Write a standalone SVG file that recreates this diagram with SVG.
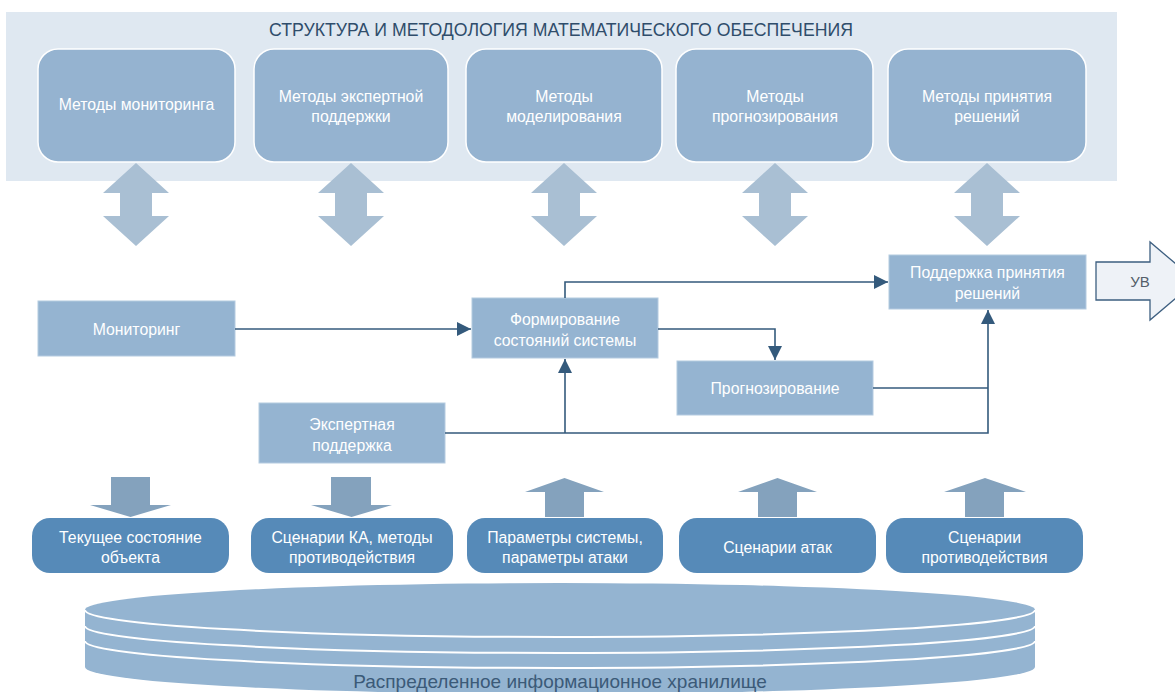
<svg xmlns="http://www.w3.org/2000/svg" width="1175" height="692" viewBox="0 0 1175 692">
<defs>
<style>
.t{font-family:"Liberation Sans","DejaVu Sans",sans-serif;font-size:15.8px;fill:#ffffff;text-anchor:middle}
.title{font-family:"Liberation Sans","DejaVu Sans",sans-serif;font-size:17.7px;fill:#2f4d6b;text-anchor:middle}
.tbox{fill:#95b3d0;stroke:#ffffff;stroke-width:1.5}
.mbox{fill:#95b4d1;stroke:#b4cbe0;stroke-width:1}
.bbox{fill:#568ab8}
.darr{fill:#a9bfd3}
.varr{fill:#84a2bd}
.con{fill:none;stroke:#345a7c;stroke-width:1.6}
</style>
<marker id="a" viewBox="0 0 12 12" refX="12" refY="6" markerWidth="14" markerHeight="14" orient="auto" markerUnits="userSpaceOnUse">
<path d="M0,0 L12,6 L0,12 z" fill="#345a7c"/>
</marker>
</defs>

<g id="band">
<rect x="6" y="12" width="1111" height="169" fill="#dfe8f1"/>
<text class="title" x="561" y="36">СТРУКТУРА И МЕТОДОЛОГИЯ МАТЕМАТИЧЕСКОГО ОБЕСПЕЧЕНИЯ</text>
</g>

<g id="m1"><rect class="tbox" x="38" y="49" width="197" height="113" rx="20"/><text class="t" x="136.5" y="110">Методы мониторинга</text></g>
<g id="m2"><rect class="tbox" x="254" y="49" width="194" height="113" rx="20"/><text class="t" x="351" y="102">Методы экспертной</text><text class="t" x="351" y="122">поддержки</text></g>
<g id="m3"><rect class="tbox" x="466" y="49" width="196" height="113" rx="20"/><text class="t" x="564" y="102">Методы</text><text class="t" x="564" y="122">моделирования</text></g>
<g id="m4"><rect class="tbox" x="676" y="49" width="197" height="113" rx="20"/><text class="t" x="775" y="102">Методы</text><text class="t" x="775" y="122">прогнозирования</text></g>
<g id="m5"><rect class="tbox" x="888" y="49" width="198" height="113" rx="20"/><text class="t" x="987" y="102">Методы принятия</text><text class="t" x="987" y="122">решений</text></g>

<g id="dblarrows">
<path class="darr" d="M136,163 L169,193 L152,193 L152,216 L169,216 L136,246 L103,216 L120,216 L120,193 L103,193 Z"/>
<path class="darr" d="M351,163 L384,193 L367,193 L367,216 L384,216 L351,246 L318,216 L335,216 L335,193 L318,193 Z"/>
<path class="darr" d="M564,163 L597,193 L580,193 L580,216 L597,216 L564,246 L531,216 L548,216 L548,193 L531,193 Z"/>
<path class="darr" d="M775,163 L808,193 L791,193 L791,216 L808,216 L775,246 L742,216 L759,216 L759,193 L742,193 Z"/>
<path class="darr" d="M987,163 L1020,193 L1003,193 L1003,216 L1020,216 L987,246 L954,216 L971,216 L971,193 L954,193 Z"/>
</g>

<g id="monitoring"><rect class="mbox" x="38" y="301" width="197" height="55"/><text class="t" x="136.5" y="334.5">Мониторинг</text></g>
<g id="formation"><rect class="mbox" x="472" y="298" width="186" height="60"/><text class="t" x="565" y="324.5">Формирование</text><text class="t" x="565" y="345.5">состояний системы</text></g>
<g id="decision"><rect class="mbox" x="889" y="255" width="197" height="54"/><text class="t" x="987.5" y="277.5">Поддержка принятия</text><text class="t" x="987.5" y="298.5">решений</text></g>
<g id="forecast"><rect class="mbox" x="677" y="361" width="196" height="54"/><text class="t" x="775" y="393.5">Прогнозирование</text></g>
<g id="expert"><rect class="mbox" x="259" y="403" width="186" height="60"/><text class="t" x="352" y="429.5">Экспертная</text><text class="t" x="352" y="450.5">поддержка</text></g>

<g id="uv">
<path d="M1096,262 L1150,262 L1150,242 L1196,281 L1150,320 L1150,300 L1096,300 Z" fill="#eef2f7" stroke="#3d5f80" stroke-width="1.3"/>
<text x="1140" y="286.5" font-family="Liberation Sans, DejaVu Sans, sans-serif" font-size="15" fill="#555f6a" text-anchor="middle">УВ</text>
</g>

<g id="connectors">
<path class="con" d="M235,329 L471,329" marker-end="url(#a)"/>
<path class="con" d="M565,298 L565,282 L888,282" marker-end="url(#a)"/>
<path class="con" d="M658,329 L775,329 L775,360" marker-end="url(#a)"/>
<path class="con" d="M873,388 L988,388"/>
<path class="con" d="M445,433 L988,433 L988,310" marker-end="url(#a)"/>
<path class="con" d="M565,433 L565,359" marker-end="url(#a)"/>
</g>

<g id="vertarrows">
<path class="varr" d="M111,477 L150,477 L150,505 L171,505 L130.5,517 L90,505 L111,505 Z"/>
<path class="varr" d="M331,477 L371,477 L371,505 L392,505 L351.5,517 L311,505 L331,505 Z"/>
<path class="varr" d="M545,517 L584,517 L584,492 L604,492 L564.5,478 L525,492 L545,492 Z"/>
<path class="varr" d="M758,517 L797,517 L797,492 L817,492 L777.5,478 L738,492 L758,492 Z"/>
<path class="varr" d="M965,517 L1004,517 L1004,492 L1026,492 L985,478 L944,492 L965,492 Z"/>
</g>

<g id="s1"><rect class="bbox" x="32" y="518" width="197" height="55" rx="18"/><text class="t" x="130.5" y="542.5">Текущее состояние</text><text class="t" x="130.5" y="562.5">объекта</text></g>
<g id="s2"><rect class="bbox" x="251" y="518" width="202" height="55" rx="18"/><text class="t" x="352" y="542.5">Сценарии КА, методы</text><text class="t" x="352" y="562.5">противодействия</text></g>
<g id="s3"><rect class="bbox" x="467" y="518" width="196" height="55" rx="18"/><text class="t" x="565" y="542.5">Параметры системы,</text><text class="t" x="565" y="562.5">параметры атаки</text></g>
<g id="s4"><rect class="bbox" x="679" y="518" width="197" height="55" rx="18"/><text class="t" x="777.5" y="552.5">Сценарии атак</text></g>
<g id="s5"><rect class="bbox" x="886" y="518" width="197" height="55" rx="18"/><text class="t" x="984.5" y="542.5">Сценарии</text><text class="t" x="984.5" y="562.5">противодействия</text></g>

<g id="storage">
<path d="M85,667 L85,610 A475,27 0 0 1 1035,610 L1035,667 A475,27 0 0 1 85,667 Z" fill="#94b4d1"/>
<path d="M85,610 A475,27 0 0 0 1035,610" fill="none" stroke="#ffffff" stroke-width="2"/>
<path d="M85,626 A475,27 0 0 0 1035,626" fill="none" stroke="#ffffff" stroke-width="2"/>
<path d="M85,641 A475,27 0 0 0 1035,641" fill="none" stroke="#ffffff" stroke-width="2"/>
<text x="560" y="688" font-family="Liberation Sans, DejaVu Sans, sans-serif" font-size="19" fill="#3b5a78" text-anchor="middle">Распределенное информационное хранилище</text>
</g>
</svg>
